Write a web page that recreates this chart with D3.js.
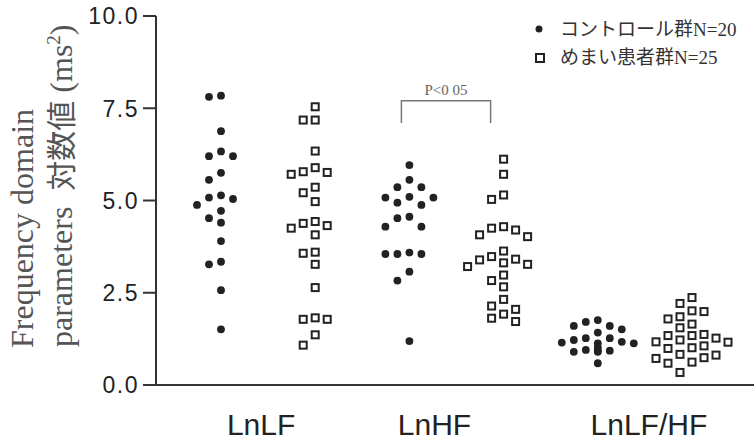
<!DOCTYPE html>
<html>
<head>
<meta charset="utf-8">
<script src="https://cdn.jsdelivr.net/npm/d3@7"></script>
<style>
	body{margin:0;background:#fff;}
	svg{display:block;}
</style>
</head>
<body>
<svg width="754" height="440"></svg>
<script>
const groups = ["LnLF", "LnHF", "LnLF/HF"];
const yTicks = [0, 2.5, 5, 7.5, 10];
const legendLabels = ["コントロール群", "めまい患者群"];
const legendN = ["N=20", "N=25"];
const pLabel = "P<0 05";

const controlLnLF = [7.84, 7.81, 6.88, 6.33, 6.20, 6.20, 5.75, 5.56, 5.14, 5.08, 5.04, 4.88, 4.72, 4.52, 4.40, 3.90, 3.34, 3.27, 2.57, 1.51];
const patientLnLF = [7.54, 7.18, 7.18, 6.34, 5.89, 5.78, 5.76, 5.71, 5.36, 5.21, 4.97, 4.43, 4.38, 4.32, 4.25, 4.07, 3.60, 3.57, 3.27, 2.64, 1.82, 1.78, 1.78, 1.36, 1.08];
const controlLnHF = [5.96, 5.56, 5.36, 5.36, 5.10, 5.08, 5.08, 4.94, 4.88, 4.56, 4.52, 4.29, 4.29, 3.59, 3.55, 3.55, 3.55, 3.07, 2.83, 1.19];
const patientLnHF = [6.12, 5.71, 5.15, 5.03, 4.29, 4.25, 4.20, 4.07, 4.02, 3.63, 3.48, 3.41, 3.39, 3.31, 3.27, 3.21, 2.98, 2.83, 2.66, 2.32, 2.14, 2.05, 1.92, 1.81, 1.72];
const controlLFHF = [1.76, 1.71, 1.60, 1.60, 1.51, 1.42, 1.27, 1.27, 1.22, 1.17, 1.15, 1.13, 1.13, 1.02, 0.95, 0.93, 0.93, 0.90, 0.90, 0.59];
const patientLFHF = [2.37, 2.21, 2.01, 1.99, 1.85, 1.79, 1.65, 1.55, 1.37, 1.34, 1.34, 1.27, 1.22, 1.17, 1.16, 1.06, 1.01, 0.99, 0.83, 0.81, 0.74, 0.72, 0.62, 0.59, 0.34];

// significance bracket between control and patient LnHF
const bracketTop = 7.7, bracketLeg = 7.1;

const columns = [
	{key:"c0", group:0, kind:"control", values:controlLnLF},
	{key:"p0", group:0, kind:"patient", values:patientLnLF},
	{key:"c1", group:1, kind:"control", values:controlLnHF},
	{key:"p1", group:1, kind:"patient", values:patientLnHF},
	{key:"c2", group:2, kind:"control", values:controlLFHF},
	{key:"p2", group:2, kind:"patient", values:patientLFHF}
];

const svg = d3.select("svg");
const ink = "#222";

const y = d3.scaleLinear().domain([0, 10]).range([385, 16]);
const x = d3.scalePoint().domain(columns.map(c => c.key)).range([221, 692]);

// simple dodge: put each point in the nearest free column slot
function dodge(values, step, gap){
	const order = [0, -1, 1, -2, 2, -3, 3];
	const placed = [];
	return values.slice().sort((a,b)=>b-a).map(v=>{
		const py = y(v);
		let slot = order.find(s => !placed.some(p => p.slot === s && Math.abs(p.py - py) < gap));
		if(slot === undefined) slot = 0;
		placed.push({slot, py});
		return {v, dx: slot * step};
	});
}

// axes
svg.append("line")
	.attr("x1", 156).attr("x2", 156).attr("y1", y(10)).attr("y2", y(0))
	.attr("stroke", "#333").attr("stroke-width", 2);
svg.append("line")
	.attr("x1", 155).attr("x2", 754).attr("y1", y(0)).attr("y2", y(0))
	.attr("stroke", "#333").attr("stroke-width", 2);

const tickG = svg.append("g");
tickG.selectAll("line").data(yTicks).join("line")
	.attr("x1", 143).attr("x2", 156)
	.attr("y1", d => y(d)).attr("y2", d => y(d))
	.attr("stroke", "#333").attr("stroke-width", 2);
tickG.selectAll("text").data(yTicks).join("text")
	.attr("x", 139).attr("y", d => y(d))
	.attr("dy", "0.36em")
	.attr("text-anchor", "end")
	.attr("font-family", "Liberation Sans, Arial, sans-serif")
	.attr("font-size", 23)
	.attr("letter-spacing", 1.5)
	.attr("fill", ink)
	.text(d => d3.format(".1f")(d));

// y axis title
const titleG = svg.append("g").attr("fill", "#555")
	.attr("font-family", "Liberation Serif, Times New Roman, serif")
	.attr("font-size", 32);
titleG.append("text")
	.attr("transform", "translate(33,348) rotate(-90)")
	.text("Frequency domain");
const t2 = titleG.append("text")
	.attr("transform", "translate(72,347) rotate(-90)");
t2.append("tspan").text("parameters\u00a0 ");
t2.append("tspan").attr("font-family", "Noto Sans CJK JP, sans-serif").attr("font-size", 30).text("対数値");
t2.append("tspan").text(" (ms");
t2.append("tspan").attr("font-size", 19).attr("dy", -12).text("2");
t2.append("tspan").attr("dy", 12).text(")");

// category labels
const labelShift = [-7, -22, 4];
svg.append("g").selectAll("text").data(groups).join("text")
	.attr("x", (d,i) => (x("c"+i) + x("p"+i)) / 2 + labelShift[i])
	.attr("y", 435)
	.attr("text-anchor", "middle")
	.attr("font-family", "Liberation Sans, Arial, sans-serif")
	.attr("font-size", 30)
	.attr("fill", ink)
	.text(d => d);

// points
const step = 12;
columns.forEach(col=>{
	const pts = dodge(col.values, step, 11);
	const g = svg.append("g");
	if(col.kind === "control"){
		g.selectAll("circle").data(pts).join("circle")
			.attr("cx", d => x(col.key) + d.dx)
			.attr("cy", d => y(d.v))
			.attr("r", 3.9)
			.attr("fill", ink);
	} else {
		g.selectAll("rect").data(pts).join("rect")
			.attr("x", d => x(col.key) + d.dx - 3.5)
			.attr("y", d => y(d.v) - 3.5)
			.attr("width", 7).attr("height", 7)
			.attr("fill", "#fff")
			.attr("stroke", ink).attr("stroke-width", 2);
	}
});

// significance bracket
const bx1 = x("c1") - 8, bx2 = x("p1") - 13;
svg.append("path")
	.attr("d", `M${bx1},${y(bracketLeg)}V${y(bracketTop)}H${bx2}V${y(bracketLeg)}`)
	.attr("fill", "none").attr("stroke", "#777").attr("stroke-width", 1.5);
svg.append("text")
	.attr("x", (bx1 + bx2) / 2).attr("y", y(bracketTop) - 6)
	.attr("text-anchor", "middle")
	.attr("font-family", "Liberation Serif, Times New Roman, serif")
	.attr("font-size", 15)
	.attr("fill", "#666")
	.text(pLabel);

// legend
const legend = svg.append("g");
legend.append("circle").attr("cx", 539).attr("cy", 29).attr("r", 3.5).attr("fill", ink);
legend.append("rect").attr("x", 536).attr("y", 54).attr("width", 8).attr("height", 8)
	.attr("fill", "#fff").attr("stroke", ink).attr("stroke-width", 2);
legendLabels.forEach((lab,i)=>{
	const t = legend.append("text")
		.attr("x", 560).attr("y", 36 + i*28)
		.attr("font-size", 19)
		.attr("fill", "#333");
	t.append("tspan").attr("font-family", "Noto Sans CJK JP, sans-serif").text(lab);
	t.append("tspan").attr("font-family", "Liberation Serif, Times New Roman, serif").text(legendN[i]);
});
</script>
</body>
</html>
